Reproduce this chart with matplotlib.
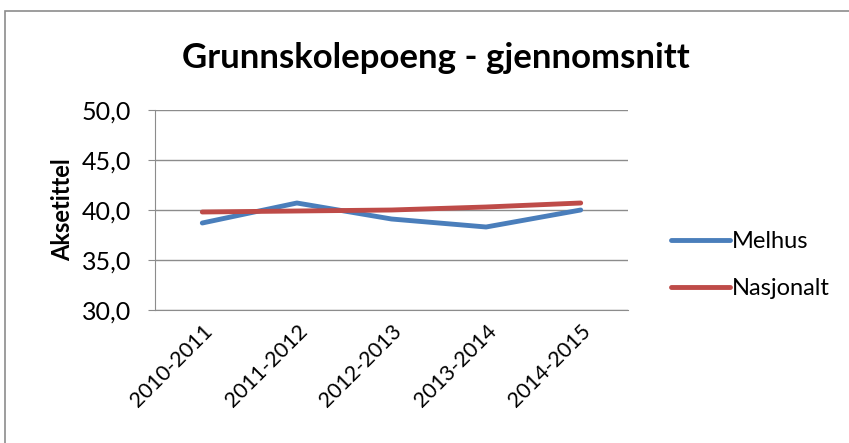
import matplotlib.pyplot as plt
from matplotlib.patches import Rectangle

plt.rcParams['font.family'] = ['Lato', 'DejaVu Sans']

seasons = ["2010-2011", "2011-2012", "2012-2013", "2013-2014", "2014-2015"]
melhus = [38.7, 40.7, 39.1, 38.3, 40.0]
nasjonalt = [39.8, 39.9, 40.0, 40.3, 40.7]
y_ticks = [30, 35, 40, 45, 50]

fig = plt.figure(figsize=(8.49, 4.43), dpi=100)
# chart border
fig.patches.append(Rectangle((5 / 849, -0.01), 1.0, 1 - 11 / 443 + 0.01, transform=fig.transFigure,
                             fill=False, edgecolor="#8c8c8c", linewidth=1.2))

ax = fig.add_axes([155 / 849, 1 - 310 / 443, 473 / 849, 200 / 443])
x = range(len(seasons))
ax.plot(x, melhus, color="#4a7ebb", linewidth=3.5, label="Melhus", solid_capstyle="round")
ax.plot(x, nasjonalt, color="#be4b48", linewidth=3.5, label="Nasjonalt", solid_capstyle="round")

ax.set_xlim(-0.5, len(seasons) - 0.5)
ax.set_ylim(30, 50)
ax.set_yticks(y_ticks)
ax.set_yticklabels([f"{v:.1f}".replace(".", ",") for v in y_ticks], fontsize=18)
ax.set_xticks(list(x))
ax.set_xticklabels(seasons, rotation=45, ha="right", rotation_mode="anchor", fontsize=15.5)
ax.grid(axis="y", color="#8c8c8c", linewidth=1)
ax.set_axisbelow(True)
for s in ["top", "right"]:
    ax.spines[s].set_visible(False)
for s in ["left", "bottom"]:
    ax.spines[s].set_color("#8c8c8c")
ax.tick_params(axis="y", length=5, color="#8c8c8c", pad=12)
ax.tick_params(axis="x", length=0, pad=8)
ax.set_ylabel("Aksetittel", fontsize=17, fontweight="bold", labelpad=6)
fig.text(436 / 849, 1 - 58 / 443, "Grunnskolepoeng - gjennomsnitt", fontsize=25,
         fontweight="bold", ha="center", va="center")

ax.legend(loc="center left", bbox_to_anchor=(1.045, 0.225), frameon=False, fontsize=17,
          handlelength=2.5, labelspacing=1.1, handletextpad=0.1)

fig.savefig("out.png", dpi=100)
